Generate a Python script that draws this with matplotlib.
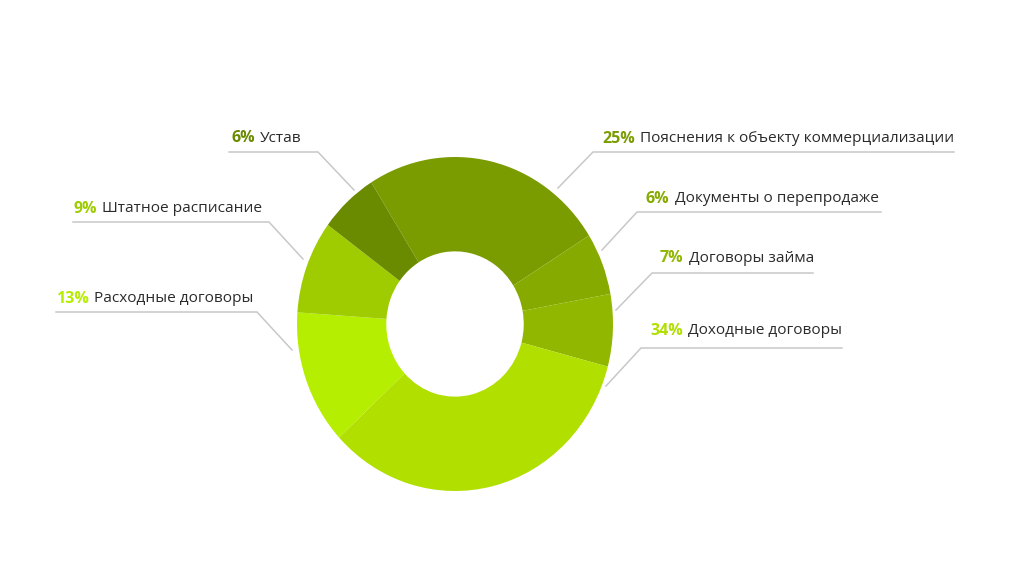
import matplotlib
matplotlib.use("Agg")
import matplotlib.pyplot as plt

# Data (clockwise from the top-left slice boundary)
names = ["Пояснения к объекту коммерциализации", "Документы о перепродаже",
         "Договоры займа", "Доходные договоры", "Расходные договоры",
         "Штатное расписание", "Устав"]
shares = [25, 6, 7, 34, 13, 9, 6]
colors = ["#7a9c00", "#86aa00", "#91b700", "#b1df00", "#b5ee00", "#9ecc00", "#6a8a00"]

# Label layout in pixels: text x, text y, line y, line x0, line x1, tip x, tip y
layout = [
    (602, 139, 152, 593, 954, 558, 188),
    (646, 199, 212, 637, 881, 602, 250),
    (660, 258, 273, 652, 813, 616, 310),
    (650, 331, 348, 641, 842, 606, 386),
    (56, 299, 312, 56, 257, 292, 350),
    (73, 209, 222, 73, 269, 303, 259),
    (231, 138, 152, 229, 318, 354, 190),
]

plt.rcParams['font.family'] = ['Open Sans', 'DejaVu Sans']

fig = plt.figure(figsize=(10.24, 5.76), dpi=100)
fig.patch.set_facecolor('white')

# Donut (slightly taller than wide, as in the reference)
W, H = 1024, 576
cx, cy, rx, ry = 455, 324, 158, 167
ax_pie = fig.add_axes([(cx - rx) / W, 1 - (cy + ry) / H, 2 * rx / W, 2 * ry / H])
ax_pie.pie(shares, colors=colors, startangle=122, counterclock=False,
           radius=1.0, wedgeprops=dict(width=0.565, linewidth=0))
ax_pie.set_aspect('auto')
ax_pie.set_xlim(-1, 1)
ax_pie.set_ylim(-1, 1)
ax_pie.axis('off')

# Overlay axes in pixel coordinates for labels and leader lines
ax = fig.add_axes([0, 0, 1, 1])
ax.set_xlim(0, W)
ax.set_ylim(H, 0)
ax.axis('off')

renderer = fig.canvas.get_renderer()
for name, share, col, (tx, ty, ly, lx0, lx1, px, py) in zip(names, shares, colors, layout):
    # leader line: horizontal underline plus diagonal to the slice
    if px < lx0:
        ax.plot([lx1, lx0, px], [ly, ly, py], color="#c8c8c8", lw=1.1)
    else:
        ax.plot([lx0, lx1, px], [ly, ly, py], color="#c8c8c8", lw=1.1)
    t = ax.text(tx, ty, f"{share}%", color=col, fontsize=11.5, fontweight='bold',
                va='center', ha='left')
    bb = t.get_window_extent(renderer=renderer)
    ax.text(bb.x1 + 5, ty, name, color="#2b2b2b", fontsize=11.1,
            va='center', ha='left')

fig.savefig("out.png", dpi=100, facecolor='white')
